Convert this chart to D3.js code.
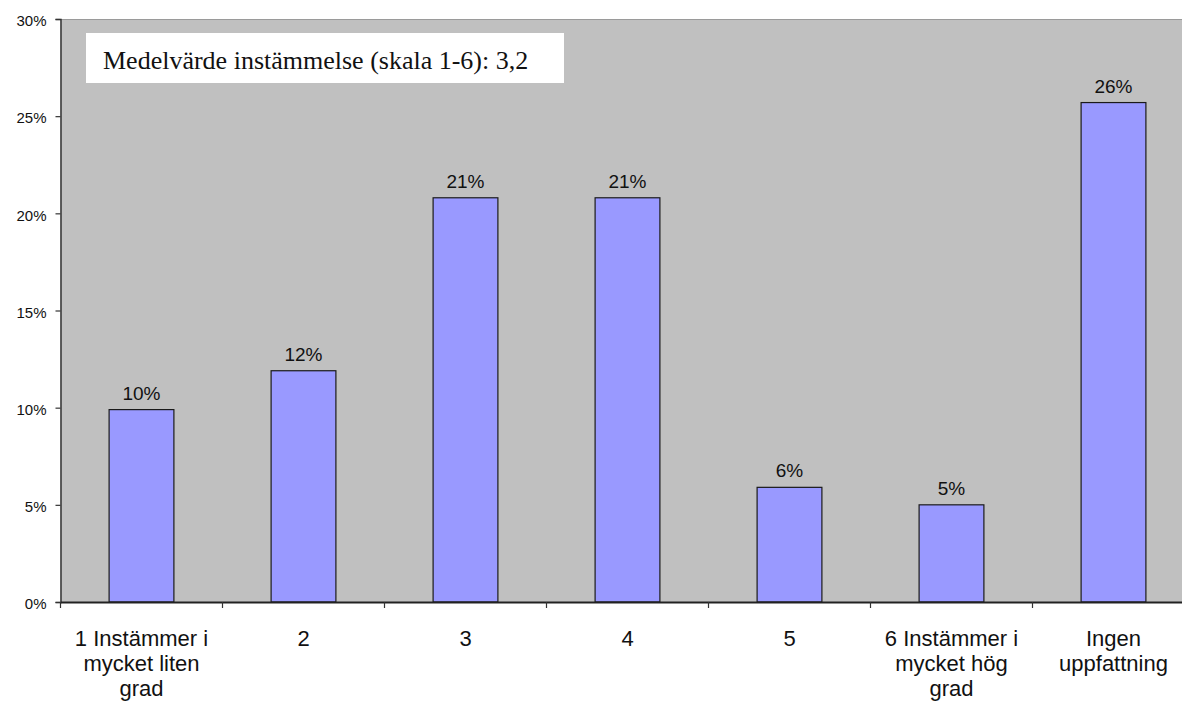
<!DOCTYPE html>
<html>
<head>
<meta charset="utf-8">
<script src="https://cdn.jsdelivr.net/npm/d3@7"></script>
<style>
html,body{margin:0;padding:0;background:#fff;}
svg{display:block;}
</style>
</head>
<body>
<svg id="chart" width="1182" height="702"></svg>
<script>
const categories = ["1 Instämmer i mycket liten grad","2","3","4","5","6 Instämmer i mycket hög grad","Ingen uppfattning"];
const categoryLines = [["1 Instämmer i","mycket liten","grad"],["2"],["3"],["4"],["5"],["6 Instämmer i","mycket hög","grad"],["Ingen","uppfattning"]];
const values = [9.9, 11.9, 20.8, 20.8, 5.9, 5.0, 25.7];
const valueLabels = ["10%","12%","21%","21%","6%","5%","26%"];
const yTicks = [0,5,10,15,20,25,30];
const note = "Medelvärde instämmelse (skala 1-6): 3,2";

(function () {
const svg = d3.select("#chart");
const pLeft = 60.5, pTop = 19, pBottom = 602, band = 162;
const pRight = pLeft + band * categories.length;

const x = d3.scaleBand().domain(categories).range([pLeft, pRight]).padding(0);
const y = d3.scaleLinear().domain([0, 30]).range([pBottom, pTop]);

svg.append("rect").attr("x", pLeft).attr("y", pTop).attr("width", pRight - pLeft).attr("height", pBottom - pTop)
  .attr("fill", "#c0c0c0");
svg.append("line").attr("x1", pLeft).attr("x2", pRight).attr("y1", pTop + 0.5).attr("y2", pTop + 0.5)
  .attr("stroke", "#9a9a9a").attr("stroke-width", 1);

const bw = band * 0.4;
svg.selectAll("rect.bar").data(values).enter().append("rect").attr("class", "bar")
  .attr("x", (d, i) => x(categories[i]) + (band - bw) / 2)
  .attr("y", d => y(d))
  .attr("width", bw)
  .attr("height", d => y(0) - y(d))
  .attr("fill", "#9999ff").attr("stroke", "#1a1a1a").attr("stroke-width", 1.2);

svg.selectAll("text.val").data(values).enter().append("text").attr("class", "val")
  .attr("x", (d, i) => x(categories[i]) + band / 2)
  .attr("y", d => y(d) - 10)
  .attr("text-anchor", "middle")
  .attr("font-family", "Liberation Sans, Arial, sans-serif").attr("font-size", 19).attr("fill", "#111")
  .text((d, i) => valueLabels[i]);

const yAxis = d3.axisLeft(y).tickValues(yTicks).tickSize(5).tickFormat(d => d + "%");
const gy = svg.append("g").attr("transform", `translate(${pLeft},0)`).call(yAxis);
gy.select(".domain").attr("stroke", "#333").attr("stroke-width", 1.5);
gy.selectAll(".tick line").attr("stroke", "#333").attr("stroke-width", 1.2);
gy.selectAll(".tick text").attr("font-family", "Liberation Sans, Arial, sans-serif").attr("font-size", 15)
  .attr("fill", "#111").attr("x", -14).attr("dy", "0.45em");

const xAxis = d3.axisBottom(x).tickSize(0).tickFormat("");
const gx = svg.append("g").attr("transform", `translate(0,${pBottom})`).call(xAxis);
gx.select(".domain").attr("stroke", "#222").attr("stroke-width", 2);
const bounds = categories.map(c => x(c)).concat([pRight]);
gx.selectAll("line.bt").data(bounds).enter().append("line").attr("class", "bt")
  .attr("x1", d => d).attr("x2", d => d).attr("y1", 0).attr("y2", 6)
  .attr("stroke", "#333").attr("stroke-width", 1.2);

const cl = svg.selectAll("text.cat").data(categoryLines).enter().append("text").attr("class", "cat")
  .attr("text-anchor", "middle")
  .attr("font-family", "Liberation Sans, Arial, sans-serif").attr("font-size", 22).attr("fill", "#111");
cl.each(function (lines, i) {
  const t = d3.select(this);
  lines.forEach((ln, j) => {
    t.append("tspan").attr("x", x(categories[i]) + band / 2).attr("y", 646 + j * 25).text(ln);
  });
});

svg.append("rect").attr("x", 86).attr("y", 33).attr("width", 478).attr("height", 50).attr("fill", "#fff");
svg.append("text").attr("x", 103).attr("y", 69)
  .attr("font-family", "Liberation Serif, Times New Roman, serif").attr("font-size", 26).attr("fill", "#111")
  .text(note);
})();
</script>
</body>
</html>
